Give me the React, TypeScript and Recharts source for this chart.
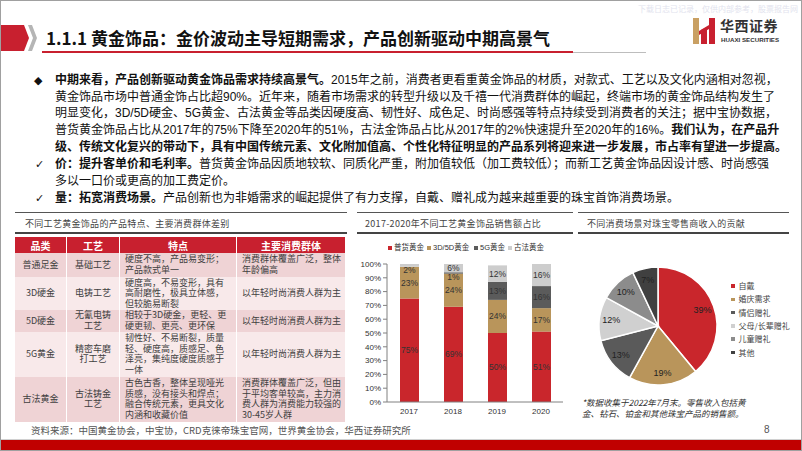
import React from 'react';
import { BarChart, Bar, XAxis, YAxis, LabelList, PieChart, Pie, Cell } from 'recharts';

// ---------- data ----------
const years = ['2017', '2018', '2019', '2020'];
const puhuoGold = [75, 69, 50, 51];
const hard3d5dGold = [23, 24, 24, 17];
const gold5g = [0, 1, 13, 16];
const gufaGold = [2, 6, 12, 16];
const barSeriesNames = ['普货黄金', '3D/5D黄金', '5G黄金', '古法黄金'];
const barSeriesKeys = ['puhuo', 'hard', 'g5', 'gufa'];
const barSeriesColors = ['#c9262c', '#b9955b', '#5b5b5b', '#cdcdcd'];
const yTicks = [0, 10, 20, 30, 40, 50, 60, 70, 80, 90, 100];

const pieNames = ['自戴', '婚庆需求', '情侣赠礼', '父母/长辈赠礼', '儿童赠礼', '其他'];
const pieValues = [39, 19, 13, 12, 10, 7];
const pieColors = ['#c9262c', '#b9955b', '#5a5a5a', '#d0d0d0', '#8c8c8c', '#404040'];

const tableHeaders = ['品类', '工艺', '特点', '主要消费群体'];
const tableCategories = ['普通足金', '3D硬金', '5D硬金', '5G黄金', '古法黄金'];
const tableCrafts = ['基础工艺', '电铸工艺', '无氰电铸\n工艺', '精密车磨\n打工艺', '古法铸金\n工艺'];
const tableFeatures = [
  '硬度不高，产品易变形；\n产品款式单一',
  '硬度高，不易变形，具有\n高耐磨性，极具立体感，\n但较脆易断裂',
  '相较于3D硬金，更轻、更\n硬更韧、更亮、更环保',
  '韧性好、不易断裂，质量\n轻、硬度高，质感足、色\n泽亮，集纯度硬度质感于\n一体',
  '古色古香，整体呈现哑光\n质感，没有接头和焊点；\n融合传统元素，更具文化\n内涵和收藏价值',
];
const tableGroups = [
  '消费群体覆盖广泛，整体\n年龄偏高',
  '以年轻时尚消费人群为主',
  '以年轻时尚消费人群为主',
  '以年轻时尚消费人群为主',
  '消费群体覆盖广泛，但由\n于平均客单较高，主力消\n费人群为消费能力较强的\n30-45岁人群',
];

const titleText = '1.1.1 黄金饰品：金价波动主导短期需求，产品创新驱动中期高景气';
const bodyLines: [string, boolean][][] = [
  [['中期来看，产品创新驱动黄金饰品需求持续高景气。', true], ['2015年之前，消费者更看重黄金饰品的材质，对款式、工艺以及文化内涵相对忽视，', false]],
  [['黄金饰品市场中普通金饰占比超90%。近年来，随着市场需求的转型升级以及千禧一代消费群体的崛起，终端市场的黄金饰品结构发生了', false]],
  [['明显变化，3D/5D硬金、5G黄金、古法黄金等品类因硬度高、韧性好、成色足、时尚感强等特点持续受到消费者的关注；据中宝协数据，', false]],
  [['普货黄金饰品占比从2017年的75%下降至2020年的51%，古法金饰品占比从2017年的2%快速提升至2020年的16%。', false], ['我们认为，在产品升', true]],
  [['级、传统文化复兴的带动下，具有中国传统元素、文化附加值高、个性化特征明显的产品系列将迎来进一步发展，市占率有望进一步提高。', true]],
  [['价：提升客单价和毛利率。', true], ['普货黄金饰品因质地较软、同质化严重，附加值较低（加工费较低）；而新工艺黄金饰品因设计感、时尚感强', false]],
  [['多以一口价或更高的加工费定价。', false]],
  [['量：拓宽消费场景。', true], ['产品创新也为非婚需求的崛起提供了有力支撑，自戴、赠礼成为越来越重要的珠宝首饰消费场景。', false]],
];
const bodyMarkers = ['◆', '', '', '', '', '✓', '', '✓'];

const tableCaption = '不同工艺黄金饰品的产品特点、主要消费群体差别';
const barCaption = '2017-2020年不同工艺黄金饰品销售额占比';
const pieCaption = '不同消费场景对珠宝零售商收入的贡献';
const pieNote = ['*数据收集于2022年7月末。零售收入包括黄', '金、钻石、铂金和其他珠宝产品的销售额。'];
const sourceText = '资料来源：中国黄金协会，中宝协，CRD克徕帝珠宝官网，世界黄金协会，华西证券研究所';
const watermark = '下载日志已记录，仅供内部参考，股票报告网';

// ---------- layout ----------
const FONT = "'Liberation Sans', 'Noto Sans CJK SC', sans-serif";
const CJK = "'Noto Sans CJK SC', 'Liberation Sans', sans-serif";
const lineTops = [72, 89, 105, 122, 139, 156, 173, 190];
const lineWidths = [701, 711, 711, 711, 712, 707, 0, 0];
const colWidths = [52, 53, 117, 109];
const rowHeights = [24, 33, 22, 45, 45];
const rowColors = ['#efd3d5', '#f8e9ea', '#efd3d5', '#f8e9ea', '#efd3d5'];

const barData = years.map((y, i) => ({
  year: y,
  puhuo: puhuoGold[i],
  hard: hard3d5dGold[i],
  g5: gold5g[i],
  gufa: gufaGold[i],
}));
const pieData = pieNames.map((n, i) => ({ name: n, value: pieValues[i] }));

const RADIAN = Math.PI / 180;

const BarLabel = (props: any) => {
  const { x, y, width, height, value } = props;
  if (!value) return null;
  const h = Number(height);
  const shift = h < 4 ? 4.5 : 0;
  return (
    <text x={Number(x) + Number(width) / 2} y={Number(y) + h / 2 + shift} dy="0.35em" textAnchor="middle"
      fontSize={8.5} fill="#333" fontFamily={FONT}>{value}%</text>
  );
};

const PieLabel = (props: any) => {
  const { cx, cy, midAngle, outerRadius, value } = props;
  const r = outerRadius * 0.8;
  const x = cx + r * Math.cos(-midAngle * RADIAN);
  const y = cy + r * Math.sin(-midAngle * RADIAN);
  return (
    <text x={x} y={y} dy="0.35em" textAnchor="middle" fontSize={9} fill="#222" fontFamily={FONT}>{value}%</text>
  );
};

const CaptionBlock = ({ left, width, text, textLeft }: { left: number; width: number; text: string; textLeft: number }) => (
  <>
    <div style={{ position: 'absolute', left, top: 212, width, height: 1, background: '#555' }} />
    <div style={{ position: 'absolute', left: textLeft, top: 218, fontSize: 9, color: '#444', fontFamily: CJK, letterSpacing: 0.3, whiteSpace: 'nowrap', lineHeight: '12px' }}>{text}</div>
    <div style={{ position: 'absolute', left, top: 232, width, height: 2, background: '#444' }} />
  </>
);

export default function App() {
  const colX: number[] = [];
  let acc = 15;
  colWidths.forEach((w) => { colX.push(acc); acc += w; });
  const rowY: number[] = [];
  let accY = 253;
  rowHeights.forEach((h) => { rowY.push(accY); accY += h; });
  const cellText = (i: number) => [tableCategories[i], tableCrafts[i], tableFeatures[i], tableGroups[i]];

  return (
    <div style={{ position: 'absolute', left: 0, top: 0, width: 802, height: 451, overflow: 'hidden', background: '#fff', fontFamily: FONT, color: '#111' }}>
      {/* watermark */}
      <div style={{ position: 'absolute', right: 4, top: 3, fontSize: 8, color: '#e2e3ee', fontFamily: CJK, whiteSpace: 'nowrap' }}>{watermark}</div>

      {/* title decoration */}
      <svg style={{ position: 'absolute', left: 0, top: 0 }} width={60} height={60}>
        <polygon points="0,25 24,25 29,38 24,51 0,51" fill="#c8202f" />
        <polygon points="28,25 32,25 37,38 32,51 28,51 33,38" fill="#b5b5b5" />
      </svg>
      <div style={{ position: 'absolute', left: 46, top: 27, fontSize: 17, fontWeight: 700, fontFamily: CJK, whiteSpace: 'nowrap', lineHeight: '22px', color: '#111' }}>{titleText}</div>
      <div style={{ position: 'absolute', left: 42, top: 51, width: 531, height: 2, background: '#c8202f' }} />
      <div style={{ position: 'absolute', left: 573, top: 51.5, width: 73, height: 1.2, background: '#bdbdbd' }} />

      {/* logo */}
      <svg style={{ position: 'absolute', left: 692, top: 16 }} width={26} height={30}>
        <rect x={1} y={2} width={6} height={26} fill="#c9a063" />
        <polygon points="9,14 15,11 15,28 9,28" fill="#c8202f" />
        <polygon points="17,2 23,2 23,28 17,28" fill="#c8202f" />
        <polygon points="7,15 17,9 17,13 7,19" fill="#c8202f" />
      </svg>
      <div style={{ position: 'absolute', left: 720, top: 16, fontSize: 14, fontWeight: 700, fontFamily: CJK, color: '#333', letterSpacing: 0.5, lineHeight: '18px', whiteSpace: 'nowrap' }}>华西证券</div>
      <div style={{ position: 'absolute', left: 721, top: 36, fontSize: 6.2, fontWeight: 700, fontFamily: FONT, color: '#333', lineHeight: '8px', whiteSpace: 'nowrap' }}>HUAXI SECURITIES</div>

      {/* body text */}
      {bodyLines.map((segs, i) => (
        <React.Fragment key={i}>
          {bodyMarkers[i] && (
            <div style={{ position: 'absolute', left: bodyMarkers[i] === '◆' ? 34 : 35, top: lineTops[i], fontSize: 11, lineHeight: '17px', fontFamily: "'DejaVu Sans', sans-serif", color: '#111' }}>{bodyMarkers[i]}</div>
          )}
          <div style={{
            position: 'absolute', left: 55, top: lineTops[i], width: lineWidths[i] || undefined,
            fontSize: 12, lineHeight: '17px', whiteSpace: 'nowrap', textAlign: lineWidths[i] ? 'justify' : 'left',
            textAlignLast: lineWidths[i] ? 'justify' : 'auto', fontFamily: FONT, color: '#111',
          } as React.CSSProperties}>
            {segs.map(([t, b], j) => <span key={j} style={{ fontWeight: b ? 700 : 400 }}>{t}</span>)}
          </div>
        </React.Fragment>
      ))}

      {/* table */}
      <CaptionBlock left={15} width={332} text={tableCaption} textLeft={25} />
      {tableHeaders.map((h, c) => (
        <div key={h} style={{
          position: 'absolute', left: colX[c], top: 237, width: colWidths[c] - 1, height: 16, background: '#c8202f',
          color: '#fff', fontWeight: 700, fontSize: 10, fontFamily: CJK, display: 'flex', alignItems: 'center', justifyContent: 'center',
        }}>{h}</div>
      ))}
      {rowHeights.map((h, r) => cellText(r).map((t, c) => (
        <div key={r + '-' + c} style={{
          position: 'absolute', left: colX[c], top: rowY[r], width: colWidths[c] - 1, height: h - 0.5, background: rowColors[r],
          color: '#404040', fontSize: 9, lineHeight: '10.5px', fontFamily: CJK, display: 'flex', alignItems: 'center',
          justifyContent: c < 2 ? 'center' : 'flex-start', textAlign: c < 2 ? 'center' : 'left', whiteSpace: 'pre',
          paddingLeft: c < 2 ? 0 : 5, boxSizing: 'border-box',
        }}>{t}</div>
      )))}

      {/* bar chart */}
      <CaptionBlock left={357} width={216} text={barCaption} textLeft={365} />
      {barSeriesNames.map((n, i) => {
        const lefts = [388, 427, 474, 508];
        return (
          <div key={n} style={{ position: 'absolute', left: lefts[i], top: 243, display: 'flex', alignItems: 'center', whiteSpace: 'nowrap', fontSize: 7.5, color: '#333', fontFamily: FONT, lineHeight: '10px' }}>
            <span style={{ display: 'inline-block', width: 4, height: 4, background: barSeriesColors[i], marginRight: 2 }} />
            {n}
          </div>
        );
      })}
      <div style={{ position: 'absolute', left: 340, top: 240 }}>
        <BarChart width={230} height={190} data={barData} margin={{ top: 24, right: 7, bottom: 8, left: 0 }} barSize={19}>
          <XAxis dataKey="year" axisLine={{ stroke: '#808080' }} tickLine={false} tickSize={4} height={20} interval={0}
            tick={{ fontSize: 8, fill: '#333', fontFamily: FONT }} />
          <YAxis domain={[0, 100]} ticks={yTicks} tickFormatter={(v: number) => v + '%'} width={47} interval={0}
            axisLine={{ stroke: '#808080' }} tickLine={{ stroke: '#808080' }} tickSize={4}
            tick={{ fontSize: 8, fill: '#333', fontFamily: FONT }} />
          {barSeriesKeys.map((k, i) => (
            <Bar key={k} dataKey={k} name={barSeriesNames[i]} stackId="s" fill={barSeriesColors[i]} isAnimationActive={false}>
              <LabelList dataKey={k} content={<BarLabel />} />
            </Bar>
          ))}
        </BarChart>
      </div>

      {/* pie chart */}
      <CaptionBlock left={578} width={211} text={pieCaption} textLeft={587} />
      <div style={{ position: 'absolute', left: 570, top: 240 }}>
        <PieChart width={160} height={165}>
          <Pie data={pieData} dataKey="value" nameKey="name" cx={83} cy={81} outerRadius={59} startAngle={90} endAngle={-270}
            stroke="#fff" strokeWidth={1.5} label={PieLabel} labelLine={false} isAnimationActive={false}>
            {pieData.map((d, i) => <Cell key={d.name} fill={pieColors[i]} />)}
          </Pie>
        </PieChart>
      </div>
      {pieNames.map((n, i) => (
        <div key={n} style={{ position: 'absolute', left: 731, top: 281 + i * 13.3, display: 'flex', alignItems: 'center', whiteSpace: 'nowrap', fontSize: 8, color: '#444', fontFamily: CJK, lineHeight: '10px' }}>
          <span style={{ display: 'inline-block', width: 3.5, height: 3.5, background: pieColors[i], marginRight: 4 }} />
          {n}
        </div>
      ))}
      {pieNote.map((t, i) => (
        <div key={i} style={{ position: 'absolute', left: 582, top: 397 + i * 11, fontSize: 8.5, fontStyle: 'italic', color: '#333', fontFamily: CJK, whiteSpace: 'nowrap', lineHeight: '11px' }}>{t}</div>
      ))}

      {/* source & footer */}
      <div style={{ position: 'absolute', left: 31, top: 424, fontSize: 9.5, color: '#555', fontFamily: CJK, whiteSpace: 'nowrap', lineHeight: '12px' }}>{sourceText}</div>
      <div style={{ position: 'absolute', left: 764, top: 424, fontSize: 10, color: '#555', fontFamily: FONT, lineHeight: '12px' }}>8</div>
      <div style={{ position: 'absolute', left: 0, top: 439, width: 802, height: 1, background: '#d0d0d0' }} />
      <div style={{ position: 'absolute', left: 0, top: 440, width: 802, height: 11, background: '#c00000' }} />
      <div style={{ position: 'absolute', left: 0, top: 0, width: 802, height: 451, boxSizing: 'border-box', border: '1px solid #a0a0a0', pointerEvents: 'none' }} />
    </div>
  );
}
